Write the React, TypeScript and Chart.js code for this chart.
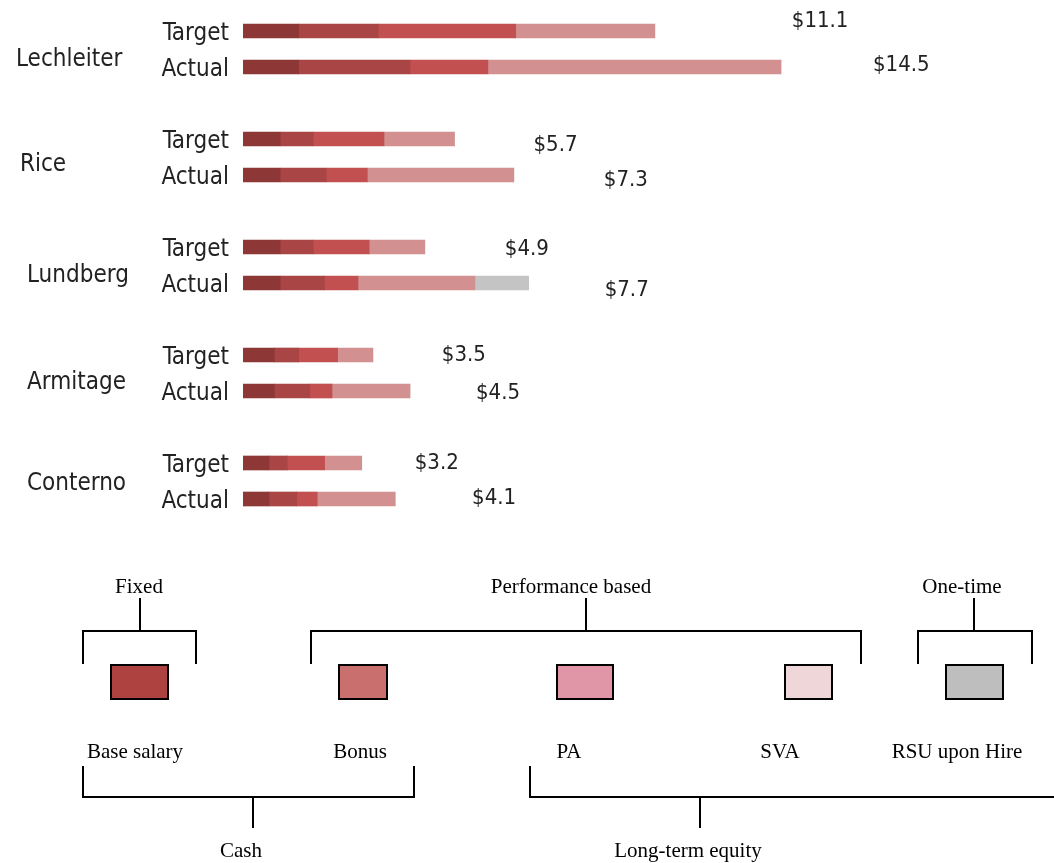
import React, { useEffect, useRef } from "react";
import { Chart, registerables } from "chart.js";

Chart.register(...registerables);

// ---------- data ----------
const names = ["Lechleiter", "Rice", "Lundberg", "Armitage", "Conterno"];
const rowKinds = ["Target", "Actual"];

const baseTarget = [1.5, 1.0, 1.0, 0.85, 0.7];
const baseActual = [1.5, 1.0, 1.0, 0.85, 0.7];
const bonusTarget = [2.15, 0.9, 0.9, 0.65, 0.5];
const bonusActual = [3.0, 1.25, 1.2, 0.95, 0.75];
const paTarget = [3.7, 1.9, 1.5, 1.05, 1.0];
const paActual = [2.1, 1.1, 0.9, 0.6, 0.55];
const svaTarget = [3.75, 1.9, 1.5, 0.95, 1.0];
const svaActual = [7.9, 3.95, 3.15, 2.1, 2.1];
const rsuTarget = [0, 0, 0, 0, 0];
const rsuActual = [0, 0, 1.45, 0, 0];
const totalTarget = [11.1, 5.7, 4.9, 3.5, 3.2];
const totalActual = [14.5, 7.3, 7.7, 4.5, 4.1];

const componentNames = ["Base salary", "Bonus", "PA", "SVA", "RSU upon Hire"];

// ---------- styles / layout ----------
const barColors = ["#8d3737", "#a94545", "#c25050", "#d29090", "#c4c4c4"];
const legendColors = ["#ae4240", "#c9706e", "#e096a6", "#efd6d8", "#bebebe"];
// per row nudges for text (px): [target, actual]
const valueLabelDx = [[137, 92], [79, 90], [80, 76], [69, 66], [53, 77]];
const valueLabelDy = [[-10, -2], [6, 5], [2, 7], [0, 2], [0, -1]];
const nameX = [16, 20, 27, 27, 27];
const nameDy = [11, 8, 11, 10, 3];
const kindDy = 3;

const W = 1054;
const H = 863;

// build slot arrays (with blank gap slots between people)
type Slot = { person: number; kind: number } | null;
const slots: Slot[] = [];
names.forEach((_, p) => {
  slots.push({ person: p, kind: 0 });
  slots.push({ person: p, kind: 1 });
  if (p < names.length - 1) slots.push(null);
});
const slotLabels = slots.map((s) => (s ? `${names[s.person]} ${rowKinds[s.kind]}` : ""));
const pick = (t: number[], a: number[]) =>
  slots.map((s) => (s ? (s.kind === 0 ? t[s.person] : a[s.person]) : null));

const seriesData = [
  pick(baseTarget, baseActual),
  pick(bonusTarget, bonusActual),
  pick(paTarget, paActual),
  pick(svaTarget, svaActual),
  pick(rsuTarget, rsuActual),
];
const totals = pick(totalTarget, totalActual);

const WORD_FONT = "24px 'DejaVu Sans Condensed', 'DejaVu Sans', sans-serif";
const VALUE_FONT = "22px 'DejaVu Sans Condensed', 'DejaVu Sans', sans-serif";
const SERIF = "21px 'Liberation Serif', 'Times New Roman', serif";

const labelsPlugin = {
  id: "customLabels",
  afterDatasetsDraw(chart: any) {
    const ctx = chart.ctx as CanvasRenderingContext2D;
    const xs = chart.scales.x;
    const ys = chart.scales.y;
    ctx.save();
    ctx.fillStyle = "#222";
    ctx.textBaseline = "middle";
    slots.forEach((s, i) => {
      if (!s) return;
      const y = ys.getPixelForValue(i);
      // row kind label
      ctx.font = WORD_FONT;
      ctx.textAlign = "right";
      ctx.fillText(rowKinds[s.kind], 229, y + kindDy);
      ctx.textAlign = "left";
      if (s.kind === 0) {
        const yA = ys.getPixelForValue(i + 1);
        ctx.fillText(names[s.person], nameX[s.person], (y + yA) / 2 + nameDy[s.person]);
      }
      // value label
      const tot = totals[i] as number;
      const xe = xs.getPixelForValue(tot);
      ctx.font = VALUE_FONT;
      ctx.fillText(
        "$" + tot.toFixed(1),
        xe + valueLabelDx[s.person][s.kind],
        y + valueLabelDy[s.person][s.kind]
      );
    });
    ctx.restore();
  },
  afterDraw(chart: any) {
    const ctx = chart.ctx as CanvasRenderingContext2D;
    ctx.save();
    ctx.strokeStyle = "#000";
    ctx.lineWidth = 2;
    ctx.fillStyle = "#000";
    ctx.font = SERIF;
    ctx.textAlign = "center";
    ctx.textBaseline = "middle";

    const line = (pts: number[][]) => {
      ctx.beginPath();
      ctx.moveTo(pts[0][0], pts[0][1]);
      for (let k = 1; k < pts.length; k++) ctx.lineTo(pts[k][0], pts[k][1]);
      ctx.stroke();
    };
    // top brackets
    const topBracket = (x1: number, x2: number, xm: number, text: string, tx: number) => {
      line([[x1, 664], [x1, 631], [x2, 631], [x2, 664]]);
      line([[xm, 631], [xm, 598]]);
      ctx.fillText(text, tx, 587);
    };
    topBracket(83, 196, 140, "Fixed", 139);
    topBracket(311, 861, 586, "Performance based", 571);
    topBracket(918, 1032, 974, "One-time", 962);

    // swatches
    const sw = [
      [111, 168],
      [339, 387],
      [557, 613],
      [785, 832],
      [946, 1003],
    ];
    const labelCx = [135, 360, 569, 780, 957];
    sw.forEach(([a, b], k) => {
      ctx.fillStyle = legendColors[k];
      ctx.fillRect(a, 665, b - a, 34);
      ctx.strokeRect(a, 665, b - a, 34);
      ctx.fillStyle = "#000";
      ctx.fillText(componentNames[k], labelCx[k], 752);
    });

    // bottom brackets
    const botBracket = (x1: number, x2: number, xm: number, text: string, tx: number) => {
      line([[x1, 766], [x1, 797], [x2, 797], [x2, 766]]);
      line([[xm, 797], [xm, 828]]);
      ctx.fillText(text, tx, 851);
    };
    botBracket(83, 414, 253, "Cash", 241);
    line([[530, 766], [530, 797], [1060, 797]]);
    line([[700, 797], [700, 828]]);
    ctx.fillText("Long-term equity", 688, 851);
    ctx.restore();
  },
};

export default function App() {
  const ref = useRef<HTMLCanvasElement | null>(null);

  useEffect(() => {
    document.body.style.margin = "0";
    document.body.style.overflow = "hidden";
    if (!ref.current) return;
    const chart = new Chart(ref.current, {
      type: "bar",
      data: {
        labels: slotLabels,
        datasets: componentNames.map((n, k) => ({
          label: n,
          data: seriesData[k],
          backgroundColor: barColors[k],
          borderWidth: 0,
          barThickness: 14,
        })),
      },
      options: {
        indexAxis: "y",
        responsive: false,
        animation: false,
        devicePixelRatio: 1,
        layout: { padding: { left: 243, right: 69, top: 13, bottom: 346 } },
        plugins: {
          legend: { display: false },
          tooltip: { enabled: false },
        },
        scales: {
          x: {
            stacked: true,
            min: 0,
            max: 20,
            display: false,
          },
          y: {
            stacked: true,
            display: false,
            offset: true,
          },
        },
      },
      plugins: [labelsPlugin],
    });
    return () => chart.destroy();
  }, []);

  return (
    <div style={{ width: W, height: H, background: "#fff" }}>
      <canvas ref={ref} width={W} height={H} style={{ display: "block" }} />
    </div>
  );
}
